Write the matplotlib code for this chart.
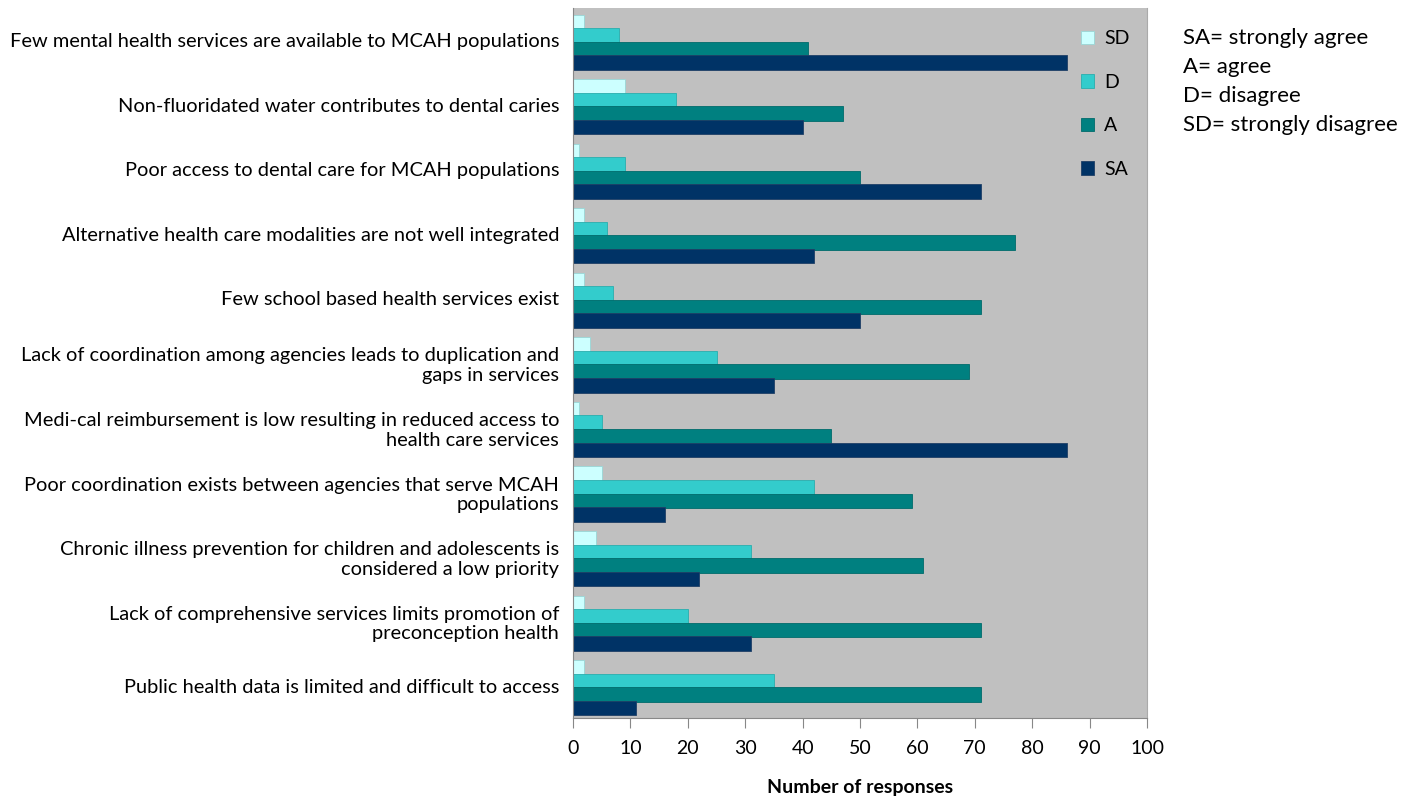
import numpy as np
import matplotlib
matplotlib.use("Agg")
import matplotlib.pyplot as plt

plt.rcParams['font.family'] = ['Lato', 'DejaVu Sans']

# categories, top to bottom
statements = [
    "Few mental health services are available to MCAH populations",
    "Non-fluoridated water contributes to dental caries",
    "Poor access to dental care for MCAH populations",
    "Alternative health care modalities are not well integrated",
    "Few school based health services exist",
    "Lack of coordination among agencies leads to duplication and\ngaps in services",
    "Medi-cal reimbursement is low resulting in reduced access to\nhealth care services",
    "Poor coordination exists between agencies that serve MCAH\npopulations",
    "Chronic illness prevention for children and adolescents is\nconsidered a low priority",
    "Lack of comprehensive services limits promotion of\npreconception health",
    "Public health data is limited and difficult to access",
]

sd = [2, 9, 1, 2, 2, 3, 1, 5, 4, 2, 2]
d = [8, 18, 9, 6, 7, 25, 5, 42, 31, 20, 35]
a = [41, 47, 50, 77, 71, 69, 45, 59, 61, 71, 71]
sa = [86, 40, 71, 42, 50, 35, 86, 16, 22, 31, 11]

series_names = ["SD", "D", "A", "SA"]
series_vals = [sd, d, a, sa]
colors = ["#CCFFFF", "#33CCCC", "#008080", "#003366"]
edges = ["#99D6D6", "#2AAEAE", "#006B6B", "#1F3F66"]

fig = plt.figure(figsize=(14.15, 8.01), dpi=100)
ax = fig.add_axes([573 / 1415, 1 - 718 / 801, (1147 - 573) / 1415, (718 - 8) / 801])

y = np.arange(len(statements))
h = 0.225
step = 0.21
offsets = [-1.5 * step, -0.5 * step, 0.5 * step, 1.5 * step]
for name, vals, c, ec, off in zip(series_names, series_vals, colors, edges, offsets):
    ax.barh(y + off + 0.03, vals, height=h, color=c, edgecolor=ec, linewidth=0.6, label=name)

ax.set_facecolor("#C0C0C0")
ax.set_xlim(0, 100)
ax.set_ylim(len(statements) - 0.5, -0.5)
ax.set_xticks(range(0, 101, 10))
ax.set_yticks(y)
ax.set_yticklabels(statements, fontsize=14.4, linespacing=1.2)
ax.tick_params(axis='y', length=0, pad=10)
ax.tick_params(axis='x', length=7, color="#888888", labelsize=14, pad=9)
ax.spines["top"].set_visible(False)
ax.spines["bottom"].set_color("#888888")
ax.spines["right"].set_color("#AAAAAA")
ax.spines["left"].set_color("#888888")

ax.set_xlabel("Number of responses", fontsize=14, fontweight="bold", labelpad=16)

leg = ax.legend(loc="upper right", bbox_to_anchor=(1.0, 0.993), frameon=False,
                fontsize=14, handlelength=0.7, handleheight=0.7,
                labelspacing=1.36, handletextpad=0.5)

fig.text(1183 / 1415, 1 - 28 / 801,
         "SA= strongly agree\nA= agree\nD= disagree\nSD= strongly disagree",
         fontsize=16, va="top", ha="left", linespacing=1.57)

fig.savefig("out.png", dpi=100)
